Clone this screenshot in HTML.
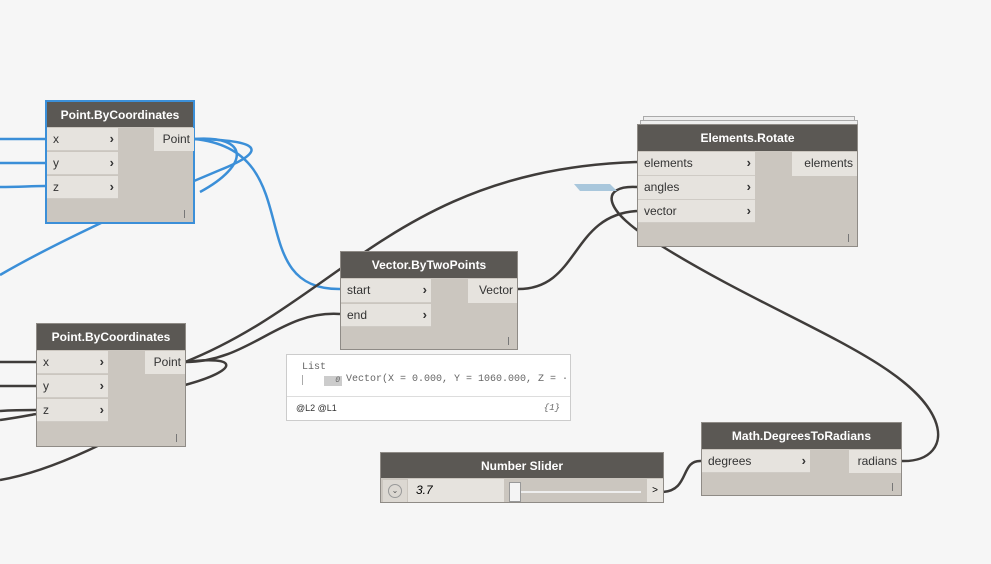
<!DOCTYPE html>
<html><head><style>
body{margin:0;width:991px;height:564px;background:#f6f6f6;position:relative;overflow:hidden;font-family:"Liberation Sans",sans-serif;}
.n{position:absolute;background:#cbc6bf;border:1px solid #8f8b86;box-sizing:border-box;}
.h{position:absolute;left:0;right:0;top:0;height:26px;background:#5b5854;color:#fff;font-weight:bold;font-size:12px;text-align:center;line-height:26px;}
.r{position:absolute;background:#e6e3de;font-size:12px;color:#333;line-height:22px;padding-left:6px;box-sizing:border-box;border-bottom:1px solid #cfcbc5;}
.r b{position:absolute;right:4px;top:0;font-size:13px;color:#333;}
.o{position:absolute;background:#e6e3de;font-size:12px;color:#333;line-height:22px;text-align:right;padding-right:4px;box-sizing:border-box;}
.l{position:absolute;right:8px;bottom:4px;width:1px;height:8px;background:#777;}
svg{position:absolute;left:0;top:0;}
</style></head><body>
<svg width="991" height="564">
<g fill="none" stroke="#3b8fd8" stroke-width="2.5">
<path d="M0 139 L45 139"/><path d="M0 163 L45 163"/><path d="M0 187 C20 187 30 186 45 186"/>
<path d="M194 139 C260 140 270 150 220 170 C160 195 60 240 0 275"/>
<path d="M194 139 C250 135 250 165 200 192"/>
<path d="M194 139 C310 150 240 290 340 289"/>
</g>
<g fill="none" stroke="#3f3c3a" stroke-width="2.5">
<path d="M0 362 L36 362"/><path d="M0 386 L36 386"/><path d="M0 411 C15 410 25 410 36 410"/><path d="M0 420 C15 418 25 416 36 414"/>
<path d="M185 362 C250 362 280 310 340 314"/>
<path d="M185 362 C340 300 400 170 637 162"/>
<path d="M185 362 C240 355 240 370 185 385"/>
<path d="M0 480 C60 470 130 430 185 400"/>
<path d="M517 289 C580 290 570 215 637 211"/>
<path d="M637 187 C600 185 600 210 660 245 C780 320 910 360 935 420 C945 445 930 462 901 461"/>
<path d="M663 492 C690 490 680 460 701 461"/>
</g>
<polygon points="574,184 610,184 617,191 580,191" fill="#a9c7dc"/>
</svg>

<div class="n" style="left:45px;top:100px;width:150px;height:124px;border:2px solid #3b8fd8">
<div class="h" style="height:25px">Point.ByCoordinates</div>
<div class="r" style="left:0;top:26px;width:71px;height:23px">x<b>›</b></div>
<div class="r" style="left:0;top:50px;width:71px;height:23px">y<b>›</b></div>
<div class="r" style="left:0;top:74px;width:71px;height:23px">z<b>›</b></div>
<div class="o" style="left:107px;top:26px;width:40px;height:23px">Point</div><div class="l"></div></div>

<div class="n" style="left:36px;top:323px;width:150px;height:124px">
<div class="h">Point.ByCoordinates</div>
<div class="r" style="left:0;top:27px;width:71px;height:23px">x<b>›</b></div>
<div class="r" style="left:0;top:51px;width:71px;height:23px">y<b>›</b></div>
<div class="r" style="left:0;top:75px;width:71px;height:23px">z<b>›</b></div>
<div class="o" style="left:108px;top:27px;width:40px;height:23px">Point</div><div class="l"></div></div>

<div class="n" style="left:340px;top:251px;width:178px;height:99px">
<div class="h">Vector.ByTwoPoints</div>
<div class="r" style="left:0;top:27px;width:90px;height:24px">start<b>›</b></div>
<div class="r" style="left:0;top:52px;width:90px;height:23px">end<b>›</b></div>
<div class="o" style="left:127px;top:27px;width:49px;height:24px">Vector</div><div class="l"></div></div>

<div style="position:absolute;left:286px;top:354px;width:285px;height:67px;background:#fff;border:1px solid #ccc;box-sizing:border-box;font-family:'Liberation Mono',monospace;font-size:10px;color:#666">
<div style="position:absolute;left:15px;top:7px">List</div>
<div style="position:absolute;left:15px;top:20px;width:1px;height:10px;background:#aaa"></div>
<div style="position:absolute;left:37px;top:21px;width:18px;height:10px;background:#ccc;font-size:8px;line-height:10px;text-align:right;font-style:italic;padding-right:2px;box-sizing:border-box">0</div>
<div style="position:absolute;left:59px;top:19px;white-space:nowrap">Vector(X = 0.000, Y = 1060.000, Z = ·</div>
<div style="position:absolute;left:0;right:0;top:41px;border-top:1px solid #ddd"></div>
<div style="position:absolute;left:9px;top:48px;font-family:'Liberation Sans';font-size:9px;color:#333">@L2 @L1</div>
<div style="position:absolute;right:10px;top:48px;font-style:italic;font-size:9px">{1}</div></div>

<div style="position:absolute;left:643px;top:116px;width:210px;height:3px;border:1px solid #aaa;border-bottom:none;background:#eee"></div>
<div style="position:absolute;left:640px;top:120px;width:216px;height:3px;border:1px solid #aaa;border-bottom:none;background:#eee"></div>
<div class="n" style="left:637px;top:124px;width:221px;height:123px">
<div class="h">Elements.Rotate</div>
<div class="r" style="left:0;top:27px;width:117px;height:24px">elements<b>›</b></div>
<div class="r" style="left:0;top:51px;width:117px;height:24px">angles<b>›</b></div>
<div class="r" style="left:0;top:75px;width:117px;height:23px">vector<b>›</b></div>
<div class="o" style="left:154px;top:27px;width:65px;height:24px">elements</div><div class="l"></div></div>

<div class="n" style="left:380px;top:452px;width:284px;height:51px">
<div class="h" style="height:25px">Number Slider</div>
<div style="position:absolute;left:2px;top:27px;width:24px;height:22px;background:#dcd8d2"><div style="position:absolute;left:5px;top:4px;width:12px;height:12px;border:1px solid #999;border-radius:50%;font-size:8px;text-align:center;line-height:12px;color:#555">⌄</div></div>
<div style="position:absolute;left:27px;top:26px;width:96px;height:23px;background:#e6e3de;font-size:12px;font-style:italic;line-height:23px;padding-left:8px;box-sizing:border-box">3.7</div>
<div style="position:absolute;left:135px;top:38px;width:125px;height:2px;background:#eee"></div>
<div style="position:absolute;left:128px;top:29px;width:10px;height:18px;background:#f4f4f4;border:1px solid #999"></div>
<div style="position:absolute;right:0;top:26px;width:16px;height:23px;background:#e6e3de;font-size:10px;line-height:23px;text-align:center">&gt;</div></div>

<div class="n" style="left:701px;top:422px;width:201px;height:74px">
<div class="h">Math.DegreesToRadians</div>
<div class="r" style="left:0;top:27px;width:108px;height:23px">degrees<b>›</b></div>
<div class="o" style="left:147px;top:27px;width:52px;height:23px">radians</div><div class="l"></div></div>
</body></html>
